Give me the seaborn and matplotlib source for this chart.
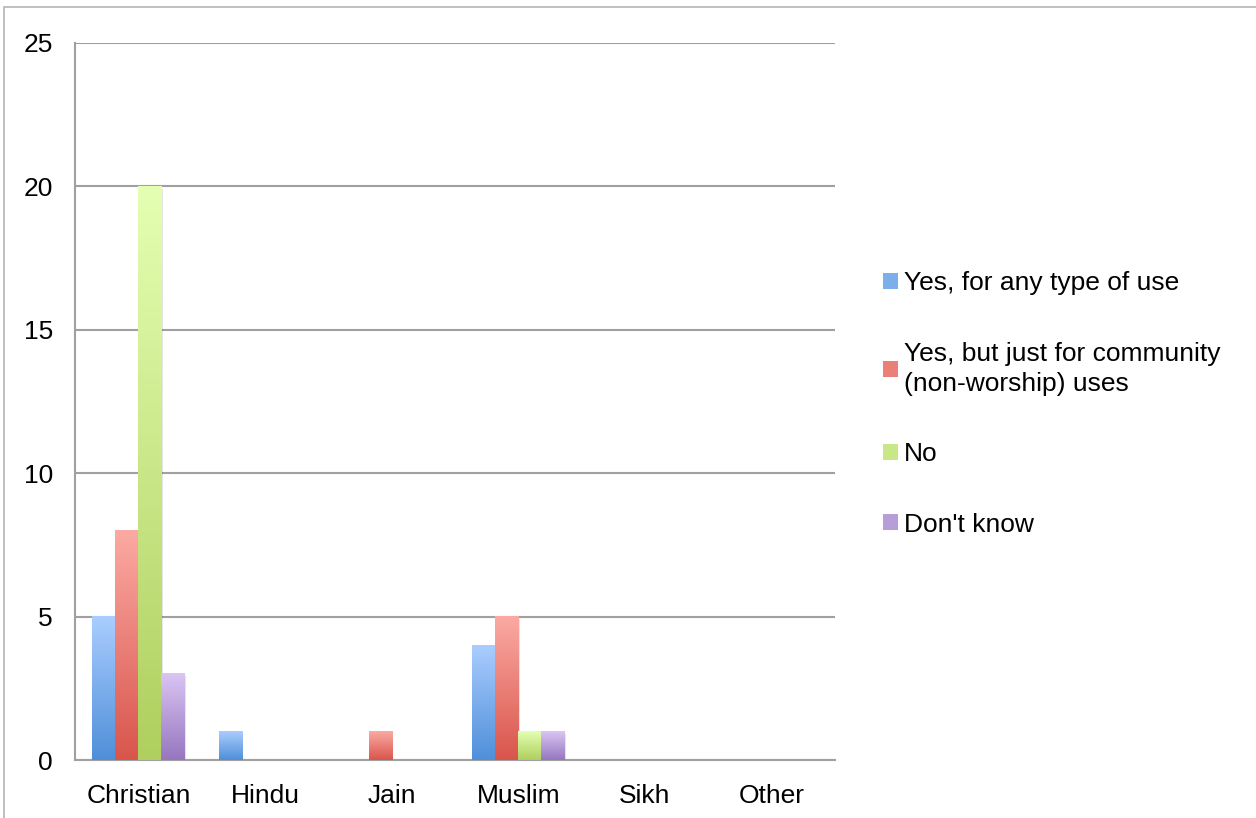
import numpy as np
import pandas as pd
import matplotlib
matplotlib.use('Agg')
import matplotlib.pyplot as plt
from matplotlib.colors import LinearSegmentedColormap
from matplotlib.patches import Patch, Rectangle
import seaborn as sns

# Chart data
religions = ['Christian', 'Hindu', 'Jain', 'Muslim', 'Sikh', 'Other']
answers = ['Yes, for any type of use',
           'Yes, but just for community\n(non-worship) uses',
           'No',
           "Don't know"]
yes_any = [5, 1, 0, 4, 0, 0]
yes_community = [8, 0, 1, 5, 0, 0]
no = [20, 0, 0, 1, 0, 0]
dont_know = [3, 0, 0, 1, 0, 0]

# gradient colours per series (bottom, top)
bottoms = ['#4f8fd9', '#d9554c', '#afcf5e', '#9676bf']
tops = ['#aacdff', '#fbaaa3', '#e4ffb2', '#dac5f3']

rows = []
for ans, vals in zip(answers, [yes_any, yes_community, no, dont_know]):
    for rel, v in zip(religions, vals):
        rows.append({'Religion': rel, 'Answer': ans, 'Count': v})
df = pd.DataFrame(rows)

sns.set_style("white")
plt.rcParams['font.family'] = ['Liberation Sans', 'DejaVu Sans']
plt.rcParams['text.color'] = 'black'
plt.rcParams['xtick.labelcolor'] = 'black'
plt.rcParams['ytick.labelcolor'] = 'black'

fig = plt.figure(figsize=(12.56, 8.18), dpi=100)
ax = fig.add_axes([75 / 1256, 1 - 760 / 818, 760 / 1256, 717 / 818])

mid = [sns.blend_palette([b, t], 3)[1] for b, t in zip(bottoms, tops)]
sns.barplot(data=df, x='Religion', y='Count', hue='Answer', order=religions,
            hue_order=answers, palette=mid, width=0.73, ax=ax, legend=False,
            edgecolor='none', linewidth=0, zorder=3)

# vertical gradient on each bar
for cont, b, t in zip(ax.containers, bottoms, tops):
    cmap = LinearSegmentedColormap.from_list('g', [b, t])
    for bar in cont:
        x, y = bar.get_x(), bar.get_y()
        w, h = bar.get_width(), bar.get_height()
        if h <= 0:
            continue
        # soft shadow on the right
        ax.add_patch(Rectangle((x + 0.012, y), w, h - 0.08, color='#000000',
                               alpha=0.10, lw=0, zorder=2.5))
        grad = np.linspace(1, 0, 256).reshape(-1, 1)
        ax.imshow(grad, cmap=cmap, aspect='auto', extent=[x, x + w, y, y + h],
                  zorder=3.5, interpolation='bicubic')

ax.set_xlim(-0.5, 5.5)
ax.set_ylim(0, 25)
ax.set_yticks([0, 5, 10, 15, 20, 25])
ax.set_xlabel('')
ax.set_ylabel('')

grid_c = '#a0a0a0'
ax.grid(axis='y', color=grid_c, linewidth=1.5, zorder=1)
ax.set_axisbelow(True)
for s in ['top', 'right']:
    ax.spines[s].set_visible(False)
for s in ['left', 'bottom']:
    ax.spines[s].set_color(grid_c)
    ax.spines[s].set_linewidth(1.5)

ax.tick_params(axis='y', which='major', direction='out', length=5,
               width=1.5, color=grid_c, labelsize=19, pad=11)
ax.tick_params(axis='x', which='major', length=0, labelsize=19, pad=17)
ax.set_xticks(np.arange(-0.5, 6.0, 1.0), minor=True)
ax.tick_params(axis='x', which='minor', direction='out', length=6,
               width=1.5, color=grid_c)

# legend
handles = [Patch(facecolor=m, edgecolor='none') for m in mid]
leg = fig.legend(handles, answers, loc='center left',
                 bbox_to_anchor=(883 / 1256, 1 - 404 / 818), frameon=False,
                 fontsize=19, handlelength=0.55, handleheight=0.55,
                 handletextpad=0.25, labelspacing=1.75, borderpad=0,
                 borderaxespad=0)
for txt in leg.get_texts():
    txt.set_linespacing(1.35)

# outer frame line
fig.add_artist(Rectangle((4 / 1256, -0.1), 1.2, 1.1 - 7 / 818,
                         transform=fig.transFigure, fill=False,
                         edgecolor='#b4b4b4', linewidth=1.2))

fig.savefig('out.png', dpi=100)
